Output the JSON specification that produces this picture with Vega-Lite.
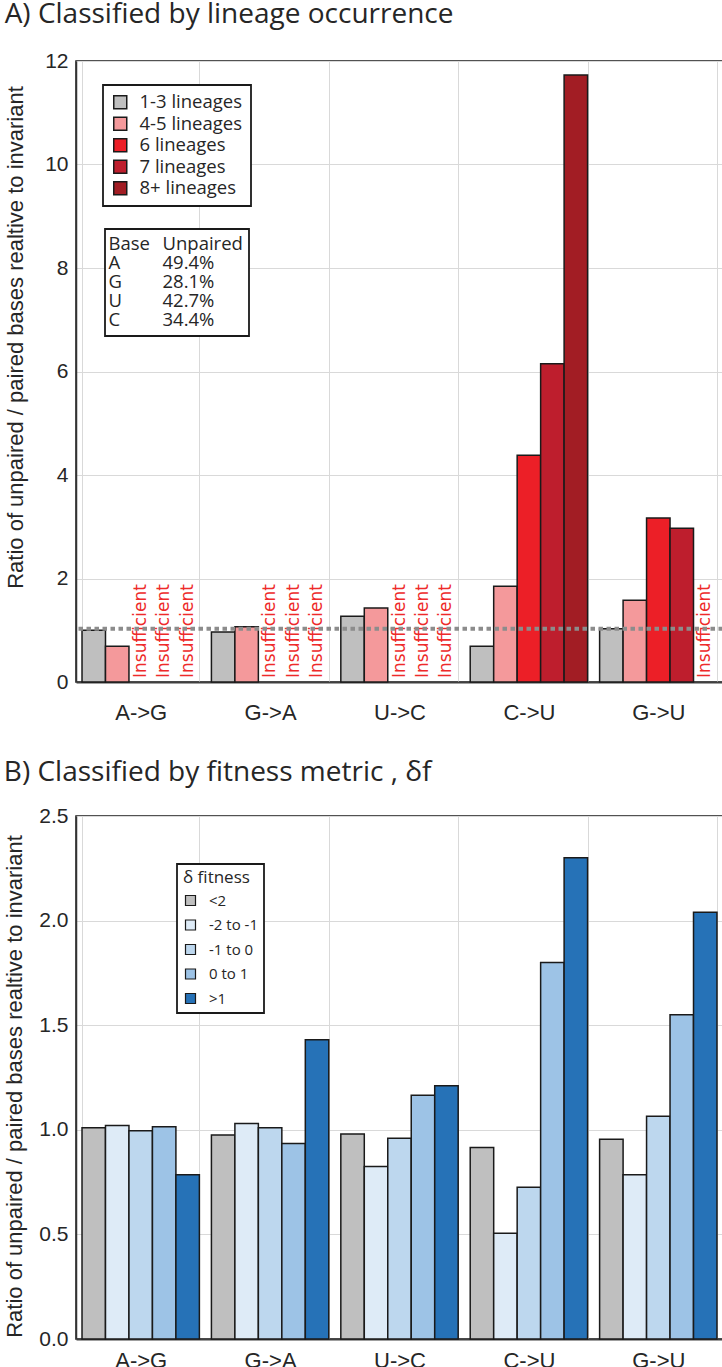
{
  "$schema": "https://vega.github.io/schema/vega-lite/v6.json",
  "background": "white",
  "padding": {"left": 3, "top": 0, "right": 0, "bottom": 0},
  "bounds": "flush",
  "spacing": 134,
  "config": {
    "font": "Liberation Sans",
    "view": {"stroke": "#1a1a1a", "strokeWidth": 1.5},
    "legend": {"strokeWidth": 1.8},
    "axis": {
      "labelColor": "#262626",
      "titleColor": "#262626",
      "titleFontWeight": "normal",
      "gridColor": "#d9d9d9",
      "gridWidth": 1,
      "ticks": false
    },
    "axisX": {"labelFontSize": 22, "labelAngle": 0, "domainColor": "#404040", "domainWidth": 2, "title": null, "grid": true, "tickBand": "extent"},
    "axisY": {"labelFontSize": 21, "labelPadding": 8, "titleFontSize": 22, "domainColor": "#333333", "domainWidth": 1.5}
  },
  "resolve": {"scale": {"color": "independent", "x": "independent", "xOffset": "independent", "y": "independent", "shape": "independent"}, "legend": {"color": "independent"}},
  "datasets": {
    "lineage": [
      {"mutation": "A->G", "lineage": "1-3 lineages", "ratio": 1.0},
      {"mutation": "A->G", "lineage": "4-5 lineages", "ratio": 0.69},
      {"mutation": "A->G", "lineage": "6 lineages", "ratio": null, "note": "Insufficient"},
      {"mutation": "A->G", "lineage": "7 lineages", "ratio": null, "note": "Insufficient"},
      {"mutation": "A->G", "lineage": "8+ lineages", "ratio": null, "note": "Insufficient"},
      {"mutation": "G->A", "lineage": "1-3 lineages", "ratio": 0.965},
      {"mutation": "G->A", "lineage": "4-5 lineages", "ratio": 1.07},
      {"mutation": "G->A", "lineage": "6 lineages", "ratio": null, "note": "Insufficient"},
      {"mutation": "G->A", "lineage": "7 lineages", "ratio": null, "note": "Insufficient"},
      {"mutation": "G->A", "lineage": "8+ lineages", "ratio": null, "note": "Insufficient"},
      {"mutation": "U->C", "lineage": "1-3 lineages", "ratio": 1.27},
      {"mutation": "U->C", "lineage": "4-5 lineages", "ratio": 1.43},
      {"mutation": "U->C", "lineage": "6 lineages", "ratio": null, "note": "Insufficient"},
      {"mutation": "U->C", "lineage": "7 lineages", "ratio": null, "note": "Insufficient"},
      {"mutation": "U->C", "lineage": "8+ lineages", "ratio": null, "note": "Insufficient"},
      {"mutation": "C->U", "lineage": "1-3 lineages", "ratio": 0.69},
      {"mutation": "C->U", "lineage": "4-5 lineages", "ratio": 1.85},
      {"mutation": "C->U", "lineage": "6 lineages", "ratio": 4.38},
      {"mutation": "C->U", "lineage": "7 lineages", "ratio": 6.15},
      {"mutation": "C->U", "lineage": "8+ lineages", "ratio": 11.73},
      {"mutation": "G->U", "lineage": "1-3 lineages", "ratio": 1.03},
      {"mutation": "G->U", "lineage": "4-5 lineages", "ratio": 1.58},
      {"mutation": "G->U", "lineage": "6 lineages", "ratio": 3.17},
      {"mutation": "G->U", "lineage": "7 lineages", "ratio": 2.97},
      {"mutation": "G->U", "lineage": "8+ lineages", "ratio": null, "note": "Insufficient"}
    ],
    "basetable": [
      {"base": "Base", "unpaired": "Unpaired"},
      {"base": "A", "unpaired": "49.4%"},
      {"base": "G", "unpaired": "28.1%"},
      {"base": "U", "unpaired": "42.7%"},
      {"base": "C", "unpaired": "34.4%"}
    ],
    "fitness": [
      {"mutation": "A->G", "fitness": "<2", "ratio": 1.01},
      {"mutation": "A->G", "fitness": "-2 to -1", "ratio": 1.02},
      {"mutation": "A->G", "fitness": "-1 to 0", "ratio": 0.995},
      {"mutation": "A->G", "fitness": "0 to 1", "ratio": 1.015},
      {"mutation": "A->G", "fitness": ">1", "ratio": 0.785},
      {"mutation": "G->A", "fitness": "<2", "ratio": 0.975},
      {"mutation": "G->A", "fitness": "-2 to -1", "ratio": 1.03},
      {"mutation": "G->A", "fitness": "-1 to 0", "ratio": 1.01},
      {"mutation": "G->A", "fitness": "0 to 1", "ratio": 0.935},
      {"mutation": "G->A", "fitness": ">1", "ratio": 1.43},
      {"mutation": "U->C", "fitness": "<2", "ratio": 0.98},
      {"mutation": "U->C", "fitness": "-2 to -1", "ratio": 0.825},
      {"mutation": "U->C", "fitness": "-1 to 0", "ratio": 0.96},
      {"mutation": "U->C", "fitness": "0 to 1", "ratio": 1.165},
      {"mutation": "U->C", "fitness": ">1", "ratio": 1.21},
      {"mutation": "C->U", "fitness": "<2", "ratio": 0.915},
      {"mutation": "C->U", "fitness": "-2 to -1", "ratio": 0.505},
      {"mutation": "C->U", "fitness": "-1 to 0", "ratio": 0.725},
      {"mutation": "C->U", "fitness": "0 to 1", "ratio": 1.8},
      {"mutation": "C->U", "fitness": ">1", "ratio": 2.3},
      {"mutation": "G->U", "fitness": "<2", "ratio": 0.955},
      {"mutation": "G->U", "fitness": "-2 to -1", "ratio": 0.785},
      {"mutation": "G->U", "fitness": "-1 to 0", "ratio": 1.065},
      {"mutation": "G->U", "fitness": "0 to 1", "ratio": 1.55},
      {"mutation": "G->U", "fitness": ">1", "ratio": 2.04}
    ]
  },
  "vconcat": [
    {
      "width": 647,
      "height": 621,
      "title": {"text": "A) Classified by lineage occurrence", "anchor": "start", "frame": "bounds", "font": "Open Sans", "fontSize": 28, "fontWeight": "normal", "color": "#262626", "baseline": "alphabetic", "offset": -1},
      "layer": [
        {
          "data": {"name": "lineage"},
          "transform": [{"filter": "isValid(datum.ratio)"}],
          "mark": {"type": "bar", "stroke": "#1a1a1a", "strokeWidth": 1.5},
          "encoding": {
            "x": {"field": "mutation", "type": "nominal", "sort": ["A->G", "G->A", "U->C", "C->U", "G->U"], "scale": {"type": "band", "paddingInner": 0.093, "paddingOuter": 0.0465}, "axis": {"labelPadding": 20}},
            "xOffset": {"field": "lineage", "type": "nominal", "scale": {"type": "band", "domain": ["1-3 lineages", "4-5 lineages", "6 lineages", "7 lineages", "8+ lineages"], "paddingInner": 0, "paddingOuter": 0}},
            "y": {"field": "ratio", "type": "quantitative", "scale": {"domain": [0, 12], "nice": false}, "axis": {"values": [0, 2, 4, 6, 8, 10, 12], "title": "Ratio  of unpaired / paired bases realtive to invariant", "titlePadding": 17, "titleY": 276}},
            "color": {"field": "lineage", "type": "nominal", "scale": {"domain": ["1-3 lineages", "4-5 lineages", "6 lineages", "7 lineages", "8+ lineages"], "range": ["#bfbfbf", "#f4999b", "#ec1f27", "#be1e2d", "#a21d24"]}, "legend": {"orient": "none", "legendX": 27, "legendY": 24, "title": null, "strokeColor": "#1a1a1a", "fillColor": "white", "padding": 8, "symbolType": "square", "symbolSize": 169, "symbolStrokeColor": "#1a1a1a", "symbolStrokeWidth": 1.5, "symbolOpacity": 1, "labelFont": "Open Sans", "labelFontSize": 18.5, "labelColor": "#262626", "labelOffset": 10, "rowPadding": 1.5}}
          }
        },
        {
          "data": {"name": "lineage"},
          "transform": [{"filter": "datum.note != null"}],
          "mark": {"type": "text", "angle": 270, "align": "left", "baseline": "middle", "dx": 4, "font": "DejaVu Sans", "fontSize": 17, "color": "#ee2a2a"},
          "encoding": {
            "x": {"field": "mutation", "type": "nominal", "sort": ["A->G", "G->A", "U->C", "C->U", "G->U"], "scale": {"type": "band"}},
            "xOffset": {"field": "lineage", "type": "nominal", "scale": {"type": "band", "domain": ["1-3 lineages", "4-5 lineages", "6 lineages", "7 lineages", "8+ lineages"]}},
            "y": {"datum": 0, "type": "quantitative"},
            "text": {"field": "note"}
          }
        },
        {
          "data": {"values": [{}]},
          "mark": {"type": "rule", "color": "#8c8c8c", "strokeWidth": 4, "strokeDash": [4.5, 3.5]},
          "encoding": {"y": {"datum": 1.03, "type": "quantitative"}}
        },
        {
          "data": {"name": "basetable"},
          "transform": [{"fold": ["base", "unpaired"], "as": ["column", "cell"]}],
          "mark": {"type": "point", "opacity": 0},
          "encoding": {
            "shape": {"field": "cell", "type": "nominal", "sort": null, "legend": {"orient": "none", "legendX": 29, "legendY": 168, "title": null, "direction": "horizontal", "columns": 2, "columnPadding": 12, "rowPadding": 0, "strokeColor": "#1a1a1a", "fillColor": "white", "padding": 6, "symbolSize": 0, "symbolStrokeWidth": 0, "symbolOpacity": 0, "labelOffset": -21, "labelFont": "Open Sans", "labelFontSize": 18.5, "labelColor": "#262626"}}
          }
        }
      ]
    },
    {
      "width": 647,
      "height": 523,
      "title": {"text": "B) Classified by fitness metric , δf", "anchor": "start", "frame": "bounds", "font": "Open Sans", "fontSize": 28, "fontWeight": "normal", "color": "#262626", "baseline": "alphabetic", "offset": -4},
      "data": {"name": "fitness"},
      "mark": {"type": "bar", "stroke": "#1a1a1a", "strokeWidth": 1.5},
      "encoding": {
        "x": {"field": "mutation", "type": "nominal", "sort": ["A->G", "G->A", "U->C", "C->U", "G->U"], "scale": {"type": "band", "paddingInner": 0.093, "paddingOuter": 0.0465}, "axis": {"labelPadding": 11}},
        "xOffset": {"field": "fitness", "type": "nominal", "scale": {"type": "band", "domain": ["<2", "-2 to -1", "-1 to 0", "0 to 1", ">1"], "paddingInner": 0, "paddingOuter": 0}},
        "y": {"field": "ratio", "type": "quantitative", "scale": {"domain": [0, 2.5], "nice": false}, "axis": {"values": [0, 0.5, 1, 1.5, 2, 2.5], "format": ".1f", "title": "Ratio  of unpaired / paired bases realtive to invariant", "titlePadding": 12, "titleY": 270}},
        "color": {"field": "fitness", "type": "nominal", "scale": {"domain": ["<2", "-2 to -1", "-1 to 0", "0 to 1", ">1"], "range": ["#bfbfbf", "#deebf7", "#bdd7ee", "#9dc3e6", "#2672b7"]}, "legend": {"orient": "none", "legendX": 101, "legendY": 48, "title": "δ fitness", "titleFont": "Open Sans", "titleFontSize": 17, "titleFontWeight": "normal", "titleColor": "#262626", "titlePadding": 6, "strokeColor": "#1a1a1a", "fillColor": "white", "padding": 6, "symbolType": "square", "symbolSize": 100, "symbolStrokeColor": "#1a1a1a", "symbolStrokeWidth": 1.2, "symbolOpacity": 1, "labelFont": "Open Sans", "labelFontSize": 15, "labelColor": "#262626", "labelOffset": 11, "rowPadding": 8.5}}
      }
    }
  ]
}
